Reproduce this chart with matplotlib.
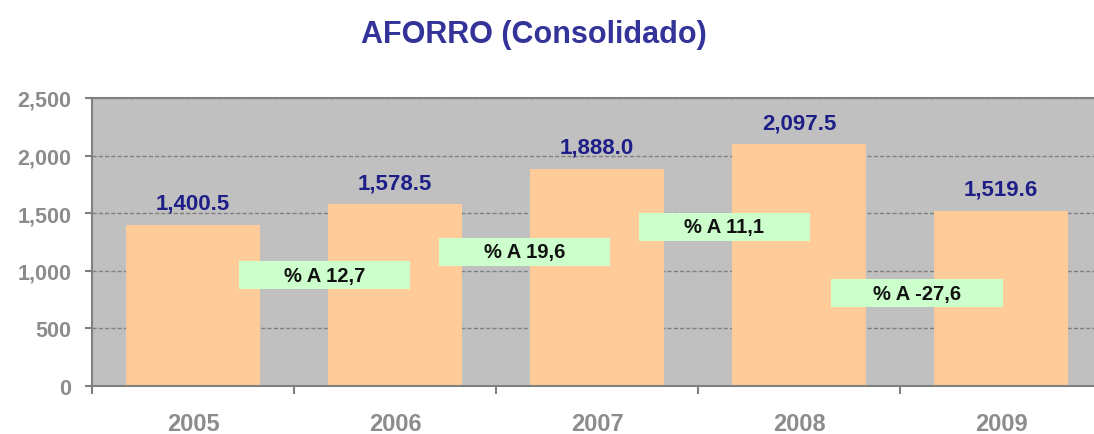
import matplotlib.pyplot as plt
from matplotlib.patches import Rectangle

years = ["2005", "2006", "2007", "2008", "2009"]
values = [1400.5, 1578.5, 1888.0, 2097.5, 1519.6]
changes = ["12,7", "19,6", "11,1", "-27,6"]

# layout of the change boxes, in data units (x between categories)
box_x = [0.651, 1.641, 2.631, 3.584]
box_y = [961, 1166, 1381, 806]
box_w = 0.847
box_h = 245

plt.rcParams["font.family"] = ["Liberation Sans", "DejaVu Sans"]
plt.rcParams["font.weight"] = "bold"

fig = plt.figure(figsize=(10.94, 4.35), dpi=100)
ax = fig.add_axes([92 / 1094, 48 / 435, 1010 / 1094, 288 / 435])
ax.set_facecolor("#C0C0C0")

x = list(range(len(years)))
ax.bar(x, values, width=0.665, color="#FFCC99", zorder=2)

for xi, v in zip(x, values):
    ax.annotate(f"{v:,.1f}", (xi, v), xytext=(0, 8), textcoords="offset points",
                ha="center", va="bottom", fontsize=16, fontweight="bold",
                color="#1E1E88", zorder=5)

for bx, by, txt in zip(box_x, box_y, changes):
    ax.add_patch(Rectangle((bx - box_w / 2, by - box_h / 2), box_w, box_h,
                           facecolor="#CCFFCC", edgecolor="none", zorder=3))
    ax.text(bx, by, f"% A {txt}", ha="center", va="center", fontsize=14.5,
            fontweight="bold", color="#111111", zorder=4)

ax.set_xlim(-0.5, 4.5)
ax.set_ylim(0, 2500)
ax.set_yticks([0, 500, 1000, 1500, 2000, 2500])
ax.set_yticklabels([f"{t:,}" for t in [0, 500, 1000, 1500, 2000, 2500]])
ax.yaxis.grid(True, color="#808080", linestyle=(0, (3, 1.5)), linewidth=1, zorder=1)
ax.set_axisbelow(True)

ax.set_xticks([i - 0.5 for i in range(len(years) + 1)])
ax.set_xticklabels([])
ax.set_xticks(x, minor=True)
ax.set_xticklabels(years, minor=True)
ax.tick_params(axis="x", which="major", length=6, width=1.5, color="#808080", direction="out")
ax.tick_params(axis="x", which="minor", length=0, pad=19, labelsize=17, labelcolor="#8C8C8C")
ax.tick_params(axis="y", length=5, width=1.5, color="#808080", pad=10,
               labelsize=15.5, labelcolor="#8C8C8C")

for side in ["left", "bottom", "top"]:
    ax.spines[side].set_color("#808080")
    ax.spines[side].set_linewidth(1.5)
ax.spines["right"].set_visible(False)

fig.text(0.4877, 0.92, "AFORRO (Consolidado)", ha="center", va="center",
         fontsize=22, fontweight="bold", color="#333399")

fig.savefig("out.png", dpi=100)
